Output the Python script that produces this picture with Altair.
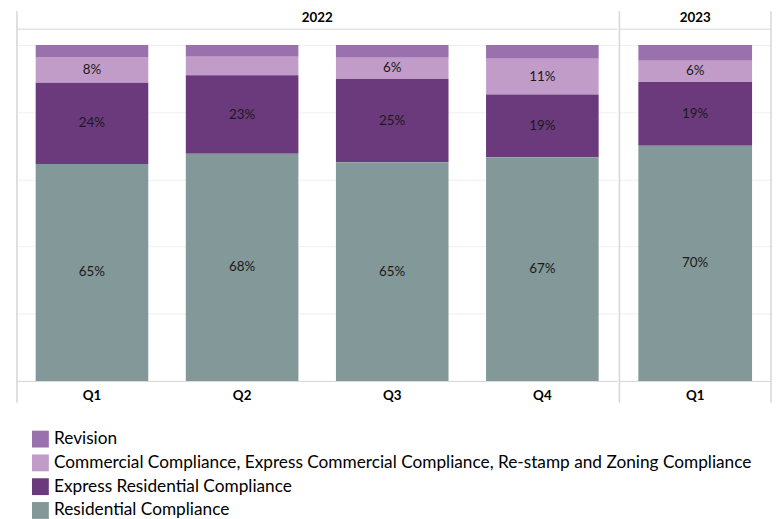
import altair as alt
import pandas as pd

# ---- data ----
years = ["2022", "2022", "2022", "2022", "2023"]
quarters = ["Q1", "Q2", "Q3", "Q4", "Q1"]
categories = [
    "Revision",
    "Commercial Compliance, Express Commercial Compliance, Re-stamp and Zoning Compliance",
    "Express Residential Compliance",
    "Residential Compliance",
]
colors = ["#9a70ad", "#c19cc9", "#6b3a7c", "#839899"]
revision = [3.6, 3.5, 3.8, 4.1, 4.7]
commercial = [7.6, 5.5, 6.3, 10.6, 6.3]
express = [24.2, 23.4, 24.8, 18.7, 19.0]
residential = [64.6, 67.6, 65.1, 66.6, 70.0]

series = dict(zip(categories, [revision, commercial, express, residential]))
rows = []
for i in range(len(quarters)):
    for k, cat in enumerate(categories):
        rows.append(dict(year=years[i], quarter=quarters[i], category=cat,
                         value=series[cat][i], order=k))
df = pd.DataFrame(rows)

FONT = "Lato"
H = 339
GRID = "#d6d6d6"


def panel(year, width, right_border=False):
    d = df[df.year == year]
    base = alt.Chart(d)
    xenc = alt.X(
        "quarter:N", sort=None, title=None,
        scale=alt.Scale(paddingInner=0.25, paddingOuter=0.125),
        axis=alt.Axis(labelAngle=0, labelFontWeight="bold", labelFontSize=13.5,
                      labelColor="#000", labelFont=FONT, domainColor=GRID,
                      ticks=False, labelPadding=8),
    )
    bars = base.mark_bar().encode(
        x=xenc,
        y=alt.Y("value:Q", stack="zero", title=None,
                scale=alt.Scale(domain=[0, 100], nice=False),
                axis=alt.Axis(labels=False, ticks=False, domain=False, grid=True,
                              gridColor="#efefef", values=[0, 20, 40, 60, 80, 100])),
        color=alt.Color("category:N", sort=categories,
                        scale=alt.Scale(domain=categories, range=colors),
                        legend=alt.Legend(title=None, orient="none", legendX=15,
                                          legendY=H + 50, symbolType="square",
                                          symbolSize=289, symbolStrokeWidth=0,
                                          labelFont=FONT, labelFontSize=17.4,
                                          labelColor="#000", labelLimit=900,
                                          rowPadding=5, labelOffset=5)),
        order=alt.Order("order:Q", sort="descending"),
    )
    text = base.transform_stack(
        stack="value", groupby=["quarter"],
        sort=[alt.SortField("order", "descending")], as_=["v0", "v1"],
    ).transform_calculate(
        mid="(datum.v0 + datum.v1) / 2",
        label="format(datum.value, '.0f') + '%'",
    ).transform_filter("datum.value >= 6").mark_text(
        font=FONT, fontSize=13.5, color="#1a1a1a"
    ).encode(x=alt.X("quarter:N", sort=None), y="mid:Q", text="label:N")

    yd = pd.DataFrame({"year": [year]})
    vrule = alt.Chart(yd).mark_rule(color=GRID, strokeWidth=1.5).encode(
        x=alt.value(0), y=alt.value(-34), y2=alt.value(H + 22))
    hrule = alt.Chart(yd).mark_rule(color=GRID, strokeWidth=1).encode(
        x=alt.value(0), x2=alt.value(width), y=alt.value(-16))
    head = alt.Chart(yd).mark_text(font=FONT, fontSize=13.5, fontWeight="bold",
                                   color="#000").encode(
        x=alt.value(width / 2), y=alt.value(-27), text="year:N")
    layers = [bars, text, vrule, hrule, head]
    if right_border:
        layers.append(alt.Chart(yd).mark_rule(color=GRID, strokeWidth=1.5).encode(
            x=alt.value(width), y=alt.value(-34), y2=alt.value(H + 22)))
    return alt.layer(*layers).properties(width=width, height=H)


chart = alt.hconcat(
    panel("2022", 606), panel("2023", 153, right_border=True), spacing=0
).properties(
    padding={"left": 8, "top": 0, "right": 0, "bottom": 0}
).configure_view(stroke=None)

chart.save("out.html", embed_options={"renderer": "svg", "actions": False})
